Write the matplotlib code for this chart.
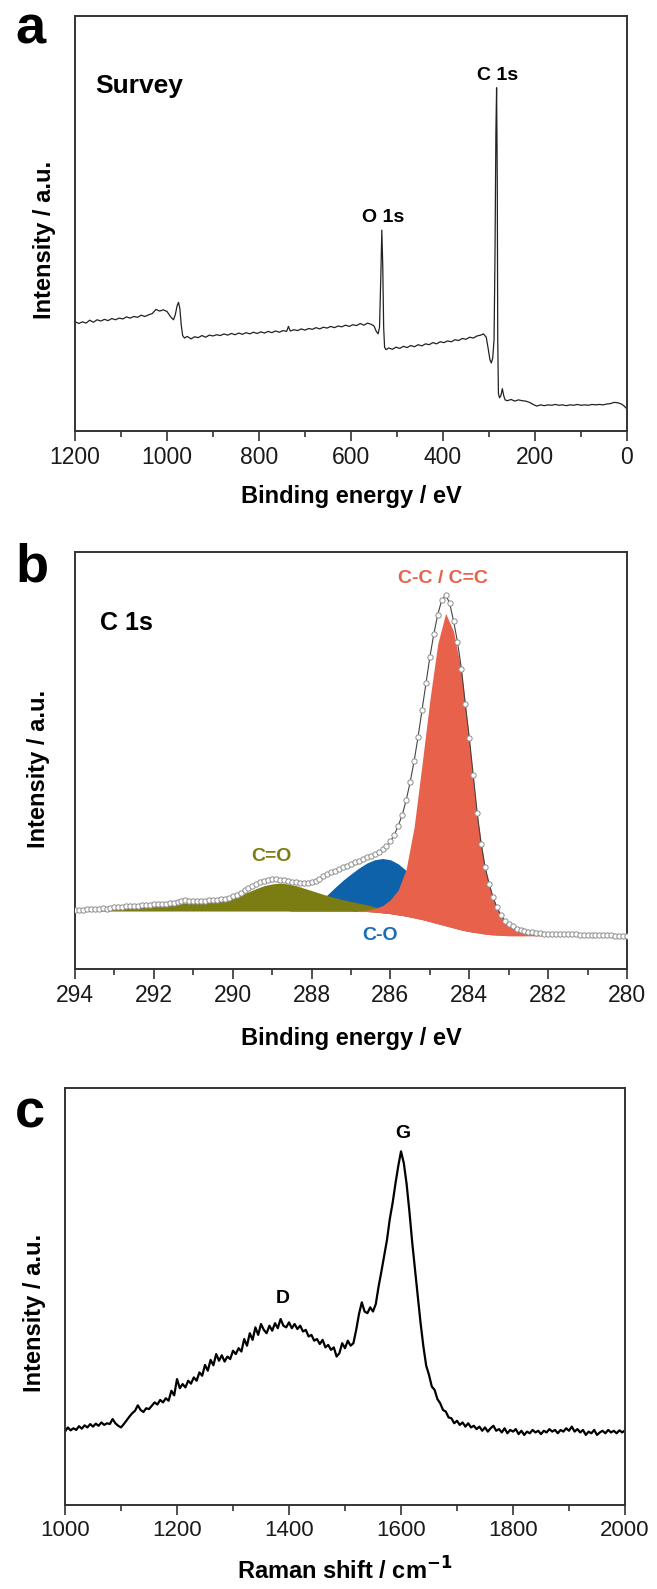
import numpy as np
import matplotlib
matplotlib.use("Agg")
import matplotlib.pyplot as plt
from matplotlib.ticker import MultipleLocator

plt.rcParams['font.family'] = ['Liberation Sans', 'DejaVu Sans']

# ---------------- Panel a: XPS survey ----------------
survey_be = [1200, 1192, 1184, 1176, 1168, 1160, 1152, 1144, 1136, 1128,
             1120, 1112, 1104, 1096, 1088, 1080, 1072, 1064, 1056, 1048,
             1040, 1032, 1024, 1016, 1008, 1000, 992, 986, 982, 978,
             975, 972, 969, 966, 962, 956, 948, 940, 932, 924,
             916, 908, 900, 892, 884, 876, 868, 860, 852, 844,
             836, 828, 820, 812, 804, 796, 788, 780, 772, 764,
             756, 748, 740, 736, 732, 724, 716, 708, 700, 692,
             684, 676, 668, 660, 652, 644, 636, 628, 620, 612,
             604, 596, 588, 580, 572, 564, 556, 550, 545, 541,
             538, 535, 533, 531, 529, 527, 524, 518, 510, 502,
             494, 486, 478, 470, 462, 454, 446, 438, 430, 422,
             414, 406, 398, 390, 382, 374, 366, 358, 350, 342,
             334, 326, 318, 312, 306, 302, 298, 295, 292, 289,
             287, 285, 283.5, 282, 281, 279.5, 277, 274, 271, 268,
             265, 260, 252, 244, 236, 228, 220, 212, 204, 196,
             188, 180, 172, 164, 156, 148, 140, 132, 124, 116,
             108, 100, 92, 84, 76, 68, 60, 52, 44, 36,
             28, 20, 12, 6, 0]
survey_int = [26.4, 25.9, 26.3, 26.0, 26.7, 26.2, 26.8, 26.5, 26.9, 26.6,
              27.1, 26.8, 27.2, 27.0, 27.5, 27.2, 27.6, 27.4, 27.9, 27.6,
              28.0, 28.3, 29.3, 28.9, 29.2, 28.8, 27.5, 26.8, 28.0, 30.2,
              31.0, 29.5, 25.5, 23.0, 22.4, 22.8, 22.2, 22.7, 22.5, 23.0,
              22.6, 23.1, 22.9, 23.2, 23.0, 23.4, 23.1, 23.5, 23.2, 23.6,
              23.3, 23.7, 23.4, 23.8, 23.5, 23.9, 23.6, 24.0, 23.7, 24.1,
              23.8, 24.2, 24.0, 25.2, 24.1, 24.4, 24.2, 24.6, 24.3, 24.7,
              24.5, 24.9, 24.6, 25.0, 24.8, 25.2, 24.9, 25.3, 25.1, 25.5,
              25.2, 25.6, 25.4, 25.9, 25.5, 26.0, 25.7, 25.3, 24.0, 23.4,
              25.0, 38.0, 48.4, 40.0, 25.0, 20.2, 19.6, 20.0, 19.7, 20.2,
              19.9, 20.4, 20.1, 20.6, 20.3, 20.8, 20.5, 21.0, 20.8, 21.3,
              21.0, 21.5, 21.3, 21.7, 21.5, 22.0, 21.8, 22.3, 22.1, 22.6,
              22.4, 22.9, 23.1, 23.4, 22.6, 20.0, 17.2, 16.4, 17.5, 22.0,
              42.0, 72.0, 82.7, 60.0, 22.0, 9.0, 8.0, 8.6, 10.2, 8.5,
              7.5, 7.3, 7.6, 7.2, 7.5, 7.3, 7.2, 6.9, 6.4, 6.0,
              6.3, 6.1, 6.3, 6.2, 6.4, 6.2, 6.3, 6.1, 6.3, 6.2,
              6.4, 6.2, 6.3, 6.2, 6.4, 6.3, 6.4, 6.3, 6.5, 6.6,
              6.9, 6.8, 6.5, 6.0, 5.3]
survey_ticks = [1200, 1000, 800, 600, 400, 200, 0]

# ---------------- Panel b: C 1s high resolution ----------------
c1s_env = [14.1, 14.2, 14.1, 14.3, 14.4, 14.3, 14.5, 14.6, 14.5, 14.7,
           14.8, 14.9, 14.8, 15.0, 15.1, 15.0, 15.2, 15.3, 15.3, 15.4,
           15.5, 15.6, 15.6, 15.7, 15.8, 15.9, 16.0, 16.4, 16.6, 16.3,
           16.2, 16.3, 16.4, 16.4, 16.5, 16.6, 16.6, 16.7, 16.9, 17.1,
           17.4, 17.8, 18.3, 18.9, 19.5, 20.0, 20.5, 20.9, 21.2, 21.4,
           21.5, 21.5, 21.4, 21.3, 21.1, 20.9, 20.8, 20.7, 20.6, 20.6,
           20.8, 21.2, 21.7, 22.2, 22.7, 23.2, 23.6, 24.0, 24.4, 24.8,
           25.2, 25.6, 26.0, 26.4, 26.8, 27.2, 27.6, 28.1, 28.7, 29.5,
           30.6, 32.2, 34.4, 37.0, 40.5, 44.8, 49.8, 55.6, 62.0, 68.5,
           74.8, 80.3, 85.0, 88.4, 89.7, 87.8, 83.5, 78.5, 72.0, 63.5,
           55.5, 46.5, 37.5, 30.0, 24.5, 20.5, 17.3, 14.8, 12.9, 11.6,
           10.8, 10.2, 9.7, 9.4, 9.1, 8.9, 8.8, 8.7, 8.6, 8.5,
           8.5, 8.4, 8.4, 8.4, 8.3, 8.3, 8.3, 8.3, 8.2, 8.2,
           8.2, 8.2, 8.1, 8.1, 8.1, 8.1, 8.1, 8.0, 8.0, 8.0,
           8.0]
c1s_env_start, c1s_env_end = 294.0, 280.0

fit_be = [294.0, 293.5, 293.0, 292.5, 292.0, 291.5, 291.0, 290.5,
          290.0, 289.8, 289.6, 289.4, 289.2, 289.0, 288.8, 288.6, 288.4, 288.2,
          288.0, 287.8, 287.6, 287.4, 287.2, 287.0, 286.8, 286.6, 286.4, 286.2,
          286.0, 285.8, 285.6, 285.4, 285.2, 285.0, 284.8, 284.6, 284.4, 284.2,
          284.0, 283.8, 283.6, 283.4, 283.2, 283.0, 282.8, 282.6, 282.4,
          282.0, 281.5, 281.0, 280.5, 280.0]
fit_bg = [13.9, 13.9, 13.9, 13.9, 13.9, 13.9, 13.9, 13.9,
          13.9, 13.9, 13.9, 13.9, 13.9, 13.9, 13.9, 13.9, 13.9, 13.9,
          13.9, 13.9, 13.9, 13.9, 13.9, 13.9, 13.8, 13.8, 13.7, 13.5,
          13.3, 13.0, 12.7, 12.3, 11.9, 11.4, 10.9, 10.4, 9.9, 9.4,
          9.0, 8.7, 8.4, 8.2, 8.1, 8.0, 8.0, 8.0, 8.0,
          8.0, 8.0, 8.0, 8.0, 8.0]
fit_co_double = [14.0, 14.3, 14.6, 15.0, 15.4, 15.7, 15.9, 16.2,
                 17.0, 17.7, 18.5, 19.3, 20.0, 20.4, 20.6, 20.4, 20.0, 19.4,
                 18.8, 18.2, 17.6, 17.1, 16.6, 16.2, 15.8, 15.4, 14.9, 14.4,
                 13.9, 13.3, 12.8, 12.3, 11.9, 11.4, 10.9, 10.4, 9.9, 9.4,
                 9.0, 8.7, 8.4, 8.2, 8.1, 8.0, 8.0, 8.0, 8.0,
                 8.0, 8.0, 8.0, 8.0, 8.0]
fit_co_single = [13.9, 13.9, 13.9, 13.9, 13.9, 13.9, 13.9, 13.9,
                 13.9, 13.9, 13.9, 13.9, 13.9, 13.9, 13.9, 13.9, 14.2, 14.6,
                 15.2, 16.2, 17.8, 19.6, 21.3, 22.8, 24.2, 25.4, 26.2, 26.5,
                 26.2, 25.2, 23.6, 21.5, 19.0, 16.5, 14.3, 12.5, 11.2, 10.2,
                 9.4, 8.7, 8.4, 8.2, 8.1, 8.0, 8.0, 8.0, 8.0,
                 8.0, 8.0, 8.0, 8.0, 8.0]
fit_cc = [13.9, 13.9, 13.9, 13.9, 13.9, 13.9, 13.9, 13.9,
          13.9, 13.9, 13.9, 13.9, 13.9, 13.9, 13.9, 13.9, 13.9, 13.9,
          13.9, 13.9, 13.9, 13.9, 13.9, 13.9, 13.9, 14.1, 14.5, 15.2,
          16.6, 19.0, 24.0, 34.0, 49.0, 64.5, 78.0, 85.3, 81.0, 71.5,
          55.0, 36.8, 24.3, 17.0, 12.8, 10.6, 9.3, 8.6, 8.3,
          8.0, 8.0, 8.0, 8.0, 8.0]
c1s_ticks = [294, 292, 290, 288, 286, 284, 282, 280]

# ---------------- Panel c: Raman ----------------
raman_start, raman_end = 1000, 2000
raman_int = [17.6, 18.6, 17.9, 18.4, 18.0, 18.9, 18.3, 19.1, 18.6, 19.4,
             18.8, 19.5, 19.0, 19.8, 19.2, 19.6, 19.4, 20.6, 19.6, 19.0,
             18.6, 19.4, 20.3, 21.2, 22.0, 22.6, 23.9, 22.8, 22.3, 23.2,
             23.0, 23.8, 24.6, 24.1, 25.2, 24.6, 25.6, 25.0, 27.4, 26.3,
             30.2, 28.0, 29.0, 28.2, 29.8, 29.1, 30.6, 29.8, 31.8, 31.0,
             33.6, 32.2, 34.8, 33.5, 36.2, 34.6, 35.9, 34.4, 35.6, 35.0,
             37.0, 36.2, 37.6, 36.8, 39.8, 38.2, 41.2, 39.6, 42.6, 40.8,
             43.4, 42.0, 41.2, 43.0, 41.8, 43.6, 42.4, 44.6, 43.0, 42.6,
             43.8, 42.4, 43.4, 42.2, 43.0, 41.6, 42.0, 40.4, 40.8, 39.4,
             39.8, 38.6, 39.6, 37.8, 38.4, 37.2, 37.8, 35.6, 36.4, 38.8,
             37.6, 39.4, 38.2, 38.8, 42.0, 45.8, 48.6, 46.4, 46.0, 47.4,
             46.4, 48.2, 52.4, 56.0, 59.8, 63.6, 68.6, 72.4, 77.0, 81.2,
             84.8, 82.0, 77.0, 70.4, 63.0, 56.4, 50.0, 43.6, 38.0, 33.4,
             31.2, 28.4, 27.6, 25.4, 24.4, 22.8, 22.4, 21.0, 20.8, 19.6,
             20.2, 19.2, 19.8, 18.8, 19.6, 18.6, 19.0, 18.2, 18.8, 17.8,
             18.6, 17.6, 18.4, 19.0, 17.8, 18.2, 17.4, 18.4, 17.2, 18.0,
             17.6, 18.2, 17.0, 17.8, 16.8, 17.6, 17.2, 18.0, 17.4, 17.8,
             17.0, 17.8, 17.4, 18.2, 17.6, 18.0, 17.2, 18.0, 17.6, 18.4,
             17.8, 18.8, 17.6, 18.2, 17.4, 18.0, 16.8, 17.6, 17.2, 18.0,
             16.8, 17.4, 17.8, 17.2, 18.0, 17.4, 17.8, 17.2, 17.9, 17.4,
             17.9]
raman_ticks = [1000, 1200, 1400, 1600, 1800, 2000]

# ---------------- Figure ----------------
W, H = 657, 1589
fig = plt.figure(figsize=(W / 100, H / 100), dpi=100)

def px_axes(left, top, right, bottom):
    return fig.add_axes([left / W, 1 - bottom / H, (right - left) / W, (bottom - top) / H])

ax_a = px_axes(75, 16, 627, 431)
ax_b = px_axes(75, 552, 627, 969)
ax_c = px_axes(65, 1088, 625, 1505)

TICK_FS = 16.5
LABEL_FS = 17
frame_col = '#333333'

def style(ax, xlim, ticks, minor, tick_fs=TICK_FS):
    ax.set_xlim(*xlim)
    ax.set_ylim(0, 100)
    ax.set_xticks(ticks)
    ax.xaxis.set_minor_locator(MultipleLocator(minor))
    ax.set_yticks([])
    ax.tick_params(axis='x', which='major', direction='out', length=7, width=1.2,
                   labelsize=tick_fs, pad=4, colors=frame_col, labelcolor='#1a1a1a')
    ax.tick_params(axis='x', which='minor', direction='out', length=4.5, width=1.2,
                   colors=frame_col)
    ax.tick_params(top=False, right=False, left=False)
    for s in ax.spines.values():
        s.set_linewidth(1.4)
        s.set_color(frame_col)

# Panel a
ax_a.plot(survey_be, survey_int, color='#222222', lw=0.9)
style(ax_a, (1200, 0), survey_ticks, 100)
ax_a.set_xlabel('Binding energy / eV', fontsize=LABEL_FS, fontweight='bold')
ax_a.set_ylabel('Intensity / a.u.', fontsize=LABEL_FS, fontweight='bold')
ax_a.xaxis.set_label_coords(0.5, -0.130)
ax_a.yaxis.set_label_coords(-0.034, 0.46)
ax_a.text(1156, 81.4, 'Survey', fontsize=19, fontweight='bold', ha='left', va='baseline')
ax_a.text(531, 49.5, 'O 1s', fontsize=14, fontweight='bold', ha='center', va='bottom')
ax_a.text(281, 83.5, 'C 1s', fontsize=14, fontweight='bold', ha='center', va='bottom')

# Panel b
red = '#E8614B'
blue = '#0E62A9'
olive = '#7B7D12'
env_be = np.linspace(c1s_env_start, c1s_env_end, len(c1s_env))
ax_b.fill_between(fit_be, fit_bg, fit_co_single, color=blue, lw=0, zorder=1)
ax_b.fill_between(fit_be, fit_bg, fit_co_double, color=olive, lw=0, zorder=2)
ax_b.fill_between(fit_be, fit_bg, fit_cc, color=red, lw=0, zorder=3)
ax_b.plot(fit_be[24:], fit_bg[24:], color=red, lw=0.9, zorder=3)
ax_b.plot(env_be, c1s_env, color='#444444', lw=0.8, marker='o', ms=3.8,
          mfc='white', mec='#8c8c8c', mew=0.7, zorder=4)
style(ax_b, (294, 280), c1s_ticks, 1)
ax_b.set_xlabel('Binding energy / eV', fontsize=LABEL_FS, fontweight='bold')
ax_b.set_ylabel('Intensity / a.u.', fontsize=LABEL_FS, fontweight='bold')
ax_b.xaxis.set_label_coords(0.5, -0.139)
ax_b.yaxis.set_label_coords(-0.045, 0.48)
ax_b.text(293.37, 81.3, 'C 1s', fontsize=18, fontweight='bold', ha='left', va='baseline')
ax_b.text(284.67, 93.6, 'C-C / C=C', fontsize=14, fontweight='bold', color=red,
          ha='center', va='center')
ax_b.text(289.02, 26.9, 'C=O', fontsize=14, fontweight='bold', color=olive,
          ha='center', va='center')
ax_b.text(286.26, 8.0, 'C-O', fontsize=14, fontweight='bold', color='#1B6DB5',
          ha='center', va='center')

# Panel c
raman_x = np.linspace(raman_start, raman_end, len(raman_int))
ax_c.plot(raman_x, raman_int, color='black', lw=1.6)
style(ax_c, (1000, 2000), raman_ticks, 100, tick_fs=16)
ax_c.set_xlabel('Raman shift / cm$^{\\mathbf{-1}}$', fontsize=LABEL_FS, fontweight='bold')
ax_c.set_ylabel('Intensity / a.u.', fontsize=LABEL_FS, fontweight='bold')
ax_c.xaxis.set_label_coords(0.5, -0.125)
ax_c.yaxis.set_label_coords(-0.034, 0.46)
ax_c.text(1388, 49.5, 'D', fontsize=14, fontweight='bold', ha='center', va='center')
ax_c.text(1604, 89.0, 'G', fontsize=14, fontweight='bold', ha='center', va='center')

# Panel letters
for letter, base_y in (('a', 43), ('b', 582), ('c', 1128)):
    fig.text(15 / W, 1 - base_y / H, letter, fontsize=39, fontweight='bold',
             ha='left', va='baseline')

fig.savefig('out.png', dpi=100)
